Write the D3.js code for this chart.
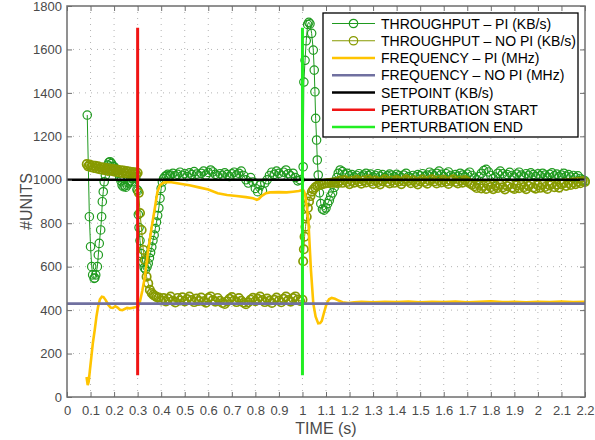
<!DOCTYPE html>
<html>
<head>
<meta charset="utf-8">
<script src="https://cdn.jsdelivr.net/npm/d3@7"></script>
<style>
  body { margin: 0; background: #fff; }
  svg { font-family: "Liberation Sans", Arial, sans-serif; }
</style>
</head>
<body>
<svg id="chart" width="595" height="440"></svg>
<script>

var xTicks = [0,0.1,0.2,0.3,0.4,0.5,0.6,0.7,0.8,0.9,1,1.1,1.2,1.3,1.4,1.5,1.6,1.7,1.8,1.9,2,2.1,2.2];
var yTicks = [0,200,400,600,800,1000,1200,1400,1600,1800];

var legendNames = ["THROUGHPUT \u2013 PI (KB/s)", "THROUGHPUT \u2013 NO PI (KB/s)", "FREQUENCY \u2013 PI (MHz)",
  "FREQUENCY \u2013 NO PI (MHz)", "SETPOINT (KB/s)", "PERTURBATION START", "PERTURBATION END"];

// [time (s), value]
var throughputPi = [
  [0.086,1298],[0.095,830],[0.1,692],[0.105,600],[0.109,562],[0.115,546],[0.118,548],[0.122,562],[0.129,600],
  [0.133,654],[0.137,707],[0.143,769],[0.147,830],[0.15,899],[0.154,945],[0.158,991],[0.163,1020],[0.168,1050],
  [0.173,1068],[0.178,1080],[0.183,1083],[0.189,1075],[0.195,1062],[0.2,1060],[0.206,1050],[0.212,1045],
  [0.218,1030],[0.224,1010],[0.229,995],[0.234,975],[0.239,968],[0.245,972],[0.25,966],[0.256,975],[0.262,985],
  [0.268,995],[0.274,990],[0.28,1005],[0.286,1015],[0.292,1008],[0.297,955],[0.301,950],[0.303,840],[0.306,780],
  [0.31,720],[0.316,660],[0.322,620],[0.328,595],[0.334,588],[0.34,600],[0.345,615],[0.35,640],[0.355,665],
  [0.36,690],[0.365,720],[0.37,745],[0.375,775],[0.38,805],[0.385,835],[0.39,870],[0.395,915],[0.4,960],
  [0.405,990],[0.41,1005],[0.416,1015],[0.422,1020],[0.428,1025],[0.434,1018],
  [0.44,1022],[0.45,1030],[0.46,1018],[0.47,1025],[0.48,1035],[0.49,1020],[0.5,1028],[0.51,1015],[0.52,1032],
  [0.53,1024],[0.54,1038],[0.55,1026],[0.56,1019],[0.57,1030],[0.58,1040],[0.59,1022],[0.6,1034],[0.61,1045],
  [0.62,1036],[0.63,1025],[0.64,1018],[0.65,1028],[0.66,1020],[0.67,1032],[0.68,1024],[0.69,1015],[0.7,1027],
  [0.71,1035],[0.72,1022],[0.73,1030],[0.74,1040],[0.75,1020],[0.76,1000],[0.77,985],[0.78,1010],[0.79,990],
  [0.8,960],[0.81,945],[0.82,975],[0.83,950],[0.84,985],[0.85,1000],[0.86,1020],[0.87,1035],[0.88,1025],
  [0.89,1040],[0.9,1030],[0.91,1020],[0.92,1035],[0.93,1045],[0.94,1028],[0.95,1018],[0.96,1030],[0.97,1010],
  [0.98,995],[0.99,1000],[1.003,1060],[1.006,1450],[1.011,1550],[1.016,1640],[1.022,1715],[1.027,1725],
  [1.032,1718],[1.039,1674],[1.046,1597],[1.05,1505],[1.053,1405],[1.056,1283],[1.06,1183],[1.063,1091],
  [1.067,1022],[1.072,940],[1.078,890],[1.085,865],[1.092,860],[1.1,870],[1.107,890],[1.114,905],[1.12,925],
  [1.128,940],[1.135,965],[1.14,990],[1.146,1010],[1.152,1030],
  [1.16,1045],[1.17,1038],[1.18,1025],[1.19,1030],[1.2,1018],[1.21,1024],[1.22,1012],[1.23,1020],[1.24,1028],
  [1.25,1015],[1.26,1022],[1.27,1030],[1.28,1019],[1.29,1026],[1.3,1012],[1.31,1020],[1.32,1028],[1.33,1016],
  [1.34,1024],[1.35,1010],[1.36,1018],[1.37,1026],[1.38,1021],[1.39,1014],[1.4,1025],[1.41,1018],[1.42,1010],
  [1.43,1022],[1.44,1030],[1.45,1015],[1.46,1008],[1.47,1020],[1.48,1012],[1.49,1024],[1.5,1018],[1.51,1028],
  [1.52,1016],[1.53,1022],[1.54,1035],[1.55,1026],[1.56,1018],[1.57,1030],[1.58,1040],[1.59,1025],[1.6,1015],
  [1.61,1028],[1.62,1036],[1.63,1020],[1.64,1012],[1.65,1024],[1.66,1016],[1.67,1030],[1.68,1022],[1.69,1014],
  [1.7,1026],[1.71,1035],[1.72,1020],[1.73,1008],[1.74,1000],[1.75,1015],[1.76,1030],[1.77,1042],[1.78,1048],
  [1.79,1036],[1.8,1020],[1.81,1005],[1.82,1012],[1.83,1030],[1.84,1040],[1.85,1028],[1.86,1016],[1.87,1024],
  [1.88,1034],[1.89,1020],[1.9,1012],[1.91,1026],[1.92,1035],[1.93,1022],[1.94,1014],[1.95,1028],[1.96,1020],
  [1.97,1032],[1.98,1024],[1.99,1015],[2,1027],[2.01,1018],[2.02,1030],[2.03,1022],[2.04,1012],[2.05,1025],
  [2.06,1032],[2.07,1018],[2.08,1026],[2.09,1014],[2.1,1022],[2.11,1030],[2.12,1016],[2.13,1024],[2.14,1012],
  [2.15,1020],[2.16,1010],[2.17,1018],[2.18,1006],[2.19,1000],[2.2,995]
];

var throughputNoPi = [
  [0.084,1072],[0.09,1062],[0.096,1070],[0.102,1058],[0.108,1066],[0.114,1054],[0.12,1064],[0.126,1052],
  [0.132,1062],[0.138,1049],[0.144,1058],[0.15,1046],[0.156,1056],[0.162,1044],[0.168,1054],[0.174,1041],
  [0.18,1052],[0.186,1042],[0.192,1050],[0.198,1038],[0.204,1048],[0.21,1036],[0.216,1046],[0.222,1034],
  [0.228,1044],[0.234,1032],[0.24,1042],[0.246,1031],[0.252,1040],[0.258,1028],[0.264,1038],[0.27,1027],
  [0.276,1036],[0.282,1026],[0.288,1035],[0.294,1025],[0.3,1032],[0.305,940],[0.31,847],[0.317,769],
  [0.324,677],[0.331,631],[0.338,554],[0.345,523],[0.352,493],[0.36,478],[0.367,470],[0.374,465],[0.381,460],
  [0.39,458],[0.4,444],[0.41,455],[0.42,440],[0.43,452],[0.44,462],[0.45,443],[0.46,435],[0.47,456],[0.48,445],
  [0.49,459],[0.5,440],[0.51,451],[0.52,462],[0.53,446],[0.54,437],[0.55,453],[0.56,442],[0.57,458],[0.58,441],
  [0.59,434],[0.6,455],[0.61,463],[0.62,446],[0.63,439],[0.64,456],[0.65,443],[0.66,433],[0.67,428],[0.68,440],
  [0.69,452],[0.7,460],[0.71,445],[0.72,437],[0.73,455],[0.74,443],[0.75,434],[0.76,427],[0.77,436],[0.78,448],
  [0.79,457],[0.8,441],[0.81,452],[0.82,462],[0.83,446],[0.84,437],[0.85,453],[0.86,443],[0.87,433],[0.88,447],
  [0.89,458],[0.9,444],[0.91,436],[0.92,452],[0.93,462],[0.94,446],[0.95,439],[0.96,455],[0.97,463],[0.98,449],
  [0.99,442],[1,448],[1.003,625],[1.006,680],[1.009,738],[1.013,784],[1.018,830],[1.023,870],[1.028,900],
  [1.034,925],[1.04,945],[1.046,955],[1.054,965],[1.063,972],[1.072,976],[1.082,979],[1.092,982],[1.102,984],
  [1.112,985],[1.122,986],[1.132,987],[1.14,988],
  [1.15,984],[1.16,996],[1.17,986],[1.18,999],[1.19,990],[1.2,980],[1.21,995],[1.22,987],[1.23,1000],[1.24,991],
  [1.25,982],[1.26,997],[1.27,988],[1.28,1001],[1.29,992],[1.3,981],[1.31,996],[1.32,989],[1.33,979],[1.34,994],
  [1.35,1002],[1.36,990],[1.37,983],[1.38,997],[1.39,986],[1.4,999],[1.41,992],[1.42,980],[1.43,994],[1.44,1002],
  [1.45,995],[1.46,984],[1.47,998],[1.48,989],[1.49,979],[1.5,993],[1.51,1001],[1.52,990],[1.53,982],[1.54,996],
  [1.55,1002],[1.56,992],[1.57,983],[1.58,998],[1.59,988],[1.6,1000],[1.61,991],[1.62,981],[1.63,995],[1.64,1002],
  [1.65,990],[1.66,983],[1.67,997],[1.68,987],[1.69,999],[1.7,992],[1.71,984],[1.72,978],[1.73,970],[1.74,962],
  [1.75,976],[1.76,960],[1.77,972],[1.78,958],[1.79,975],[1.8,966],[1.81,957],[1.82,973],[1.83,962],[1.84,978],
  [1.85,965],[1.86,956],[1.87,971],[1.88,979],[1.89,964],[1.9,958],[1.91,974],[1.92,961],[1.93,977],[1.94,966],
  [1.95,957],[1.96,972],[1.97,980],[1.98,965],[1.99,959],[2,975],[2.01,963],[2.02,978],[2.03,967],[2.04,958],
  [2.05,974],[2.06,981],[2.07,966],[2.08,977],[2.09,964],[2.1,979],[2.11,984],[2.12,972],[2.13,985],[2.14,976],
  [2.15,988],[2.16,980],[2.17,991],[2.18,984],[2.19,994],[2.2,990]
];

var frequencyPi = [
  [0.083,92],[0.088,55],[0.092,70],[0.097,120],[0.103,180],[0.11,250],[0.118,310],[0.125,370],[0.132,415],
  [0.14,450],[0.148,462],[0.155,460],[0.165,445],[0.175,425],[0.185,412],[0.195,410],[0.205,418],[0.215,412],
  [0.225,402],[0.235,400],[0.245,405],[0.255,410],[0.265,408],[0.275,410],[0.285,412],[0.295,414],[0.302,415],
  [0.31,440],[0.32,490],[0.331,554],[0.345,677],[0.36,784],[0.374,876],[0.384,945],[0.395,975],[0.41,987],
  [0.437,990],[0.48,982],[0.52,975],[0.56,965],[0.6,955],[0.64,938],[0.68,930],[0.72,925],[0.76,920],[0.79,915],
  [0.806,908],[0.815,912],[0.826,925],[0.845,938],[0.862,942],[0.9,943],[0.933,942],[0.96,945],[0.985,948],
  [0.997,952],[1.005,950],[1.011,935],[1.018,880],[1.025,815],[1.036,585],[1.046,431],[1.056,370],[1.067,339],
  [1.075,340],[1.082,350],[1.092,390],[1.103,431],[1.113,450],[1.124,456],[1.138,452],[1.152,445],[1.17,436],
  [1.195,432],[1.22,436],[1.25,438],[1.3,436],[1.35,438],[1.4,437],[1.45,439],[1.5,436],[1.55,438],[1.6,437],
  [1.65,439],[1.7,436],[1.75,438],[1.8,441],[1.85,437],[1.9,438],[1.95,436],[2,438],[2.05,437],[2.1,439],
  [2.15,437],[2.2,438]
];

var frequencyNoPi = [[0,430],[2.2,430]];
var setpoint = [[0,1000],[2.2,1000]];
var perturbationStart = [[0.3,100],[0.3,1700]];
var perturbationEnd = [[1.0,100],[1.0,1700]];

var colors = ["#1f9a1f", "#879a00", "#ffc400", "#7070a0", "#000000", "#f01414", "#22ee22"];

var svg = d3.select("#chart");
var margin = {top: 6, left: 67};
var w = 518, h = 391;

var xScale = d3.scaleLinear().domain([0, 2.2]).range([0, w]);
var yScale = d3.scaleLinear().domain([0, 1800]).range([h, 0]);

var elt = svg.append("g")
  .attr("transform", "translate(" + margin.left + "," + margin.top + ")");

// dotted grid
elt.append("g").selectAll("line")
  .data(xTicks.slice(1, -1))
  .enter().append("line")
  .attr("x1", function(d) { return xScale(d); })
  .attr("x2", function(d) { return xScale(d); })
  .attr("y1", 0).attr("y2", h)
  .style("stroke", "#b4b4b4").style("stroke-width", 1).style("stroke-dasharray", "1,5");

elt.append("g").selectAll("line")
  .data(yTicks.slice(1, -1))
  .enter().append("line")
  .attr("y1", function(d) { return yScale(d); })
  .attr("y2", function(d) { return yScale(d); })
  .attr("x1", 0).attr("x2", w)
  .style("stroke", "#b4b4b4").style("stroke-width", 1).style("stroke-dasharray", "1,5");

var line = d3.line()
  .x(function(d) { return xScale(d[0]); })
  .y(function(d) { return yScale(d[1]); });

function drawSeries(data, color, width, markerWidth) {
  elt.append("path")
    .datum(data)
    .attr("d", line)
    .style("fill", "none")
    .style("stroke", color)
    .style("stroke-width", width);
  if (markerWidth) {
    elt.append("g").selectAll("circle")
      .data(data)
      .enter().append("circle")
      .attr("cx", function(d) { return xScale(d[0]); })
      .attr("cy", function(d) { return yScale(d[1]); })
      .attr("r", 4.2)
      .style("fill", "none")
      .style("stroke", color)
      .style("stroke-width", markerWidth);
  }
}

drawSeries(throughputPi, colors[0], 1, 1.2);
drawSeries(throughputNoPi, colors[1], 1, 1.7);
drawSeries(frequencyPi, colors[2], 2.6, 0);
drawSeries(frequencyNoPi, colors[3], 2.6, 0);
drawSeries(setpoint, colors[4], 2.6, 0);
drawSeries(perturbationStart, colors[5], 3, 0);
drawSeries(perturbationEnd, colors[6], 3, 0);

// axes with inward ticks
var xAxisG = elt.append("g")
  .attr("transform", "translate(0," + h + ")")
  .call(d3.axisBottom(xScale).tickValues(xTicks).tickSize(-5).tickPadding(9)
    .tickFormat(function(d) { return d3.format("~g")(d); }));
var xTopG = elt.append("g")
  .call(d3.axisTop(xScale).tickValues(xTicks).tickSize(-5).tickFormat(""));
var yAxisG = elt.append("g")
  .call(d3.axisLeft(yScale).tickValues(yTicks).tickSize(-5).tickPadding(5)
    .tickFormat(d3.format("d")));
var yRightG = elt.append("g")
  .attr("transform", "translate(" + w + ",0)")
  .call(d3.axisRight(yScale).tickValues(yTicks).tickSize(-5).tickFormat(""));

[xAxisG, xTopG, yAxisG, yRightG].forEach(function(g) {
  g.select(".domain").remove();
  g.selectAll(".tick line").style("stroke", "#6e6e6e").style("stroke-width", 1);
  g.selectAll("text")
    .style("font-family", "'Liberation Sans', Arial, sans-serif")
    .style("font-size", "13px")
    .style("fill", "#4a4a4a");
});

elt.append("rect")
  .attr("width", w).attr("height", h)
  .style("fill", "none")
  .style("stroke", "#6e6e6e")
  .style("stroke-width", 1.5);

// text label for the x axis
elt.append("text")
  .attr("x", w / 2)
  .attr("y", h + 37)
  .style("text-anchor", "middle")
  .style("font-size", "16px")
  .style("fill", "#4a4a4a")
  .text("TIME (s)");

// text label for the y axis
elt.append("text")
  .attr("transform", "translate(" + (-35) + "," + (h / 2) + ") rotate(-90)")
  .style("text-anchor", "middle")
  .style("font-size", "16px")
  .style("fill", "#4a4a4a")
  .text("#UNITS");

// legend
var legend = svg.append("g").attr("transform", "translate(323,13)");
legend.append("rect")
  .attr("width", 255).attr("height", 124)
  .style("fill", "#fff")
  .style("stroke", "#000")
  .style("stroke-width", 1.3);

var legendRow = d3.scaleLinear().domain([0, 6]).range([10.5, 114]);

legendNames.forEach(function(name, i) {
  var yy = legendRow(i);
  legend.append("line")
    .attr("x1", 9).attr("x2", 52)
    .attr("y1", yy).attr("y2", yy)
    .style("stroke", colors[i])
    .style("stroke-width", i < 2 ? 1 : 2.6);
  if (i < 2) {
    legend.append("circle")
      .attr("cx", 30.5).attr("cy", yy).attr("r", 4.2)
      .style("fill", "none")
      .style("stroke", colors[i])
      .style("stroke-width", 1.2);
  }
  legend.append("text")
    .attr("x", 58)
    .attr("y", yy)
    .attr("dy", "0.36em")
    .style("font-size", "14px")
    .style("fill", "#000")
    .text(name);
});

</script>
</body>
</html>
